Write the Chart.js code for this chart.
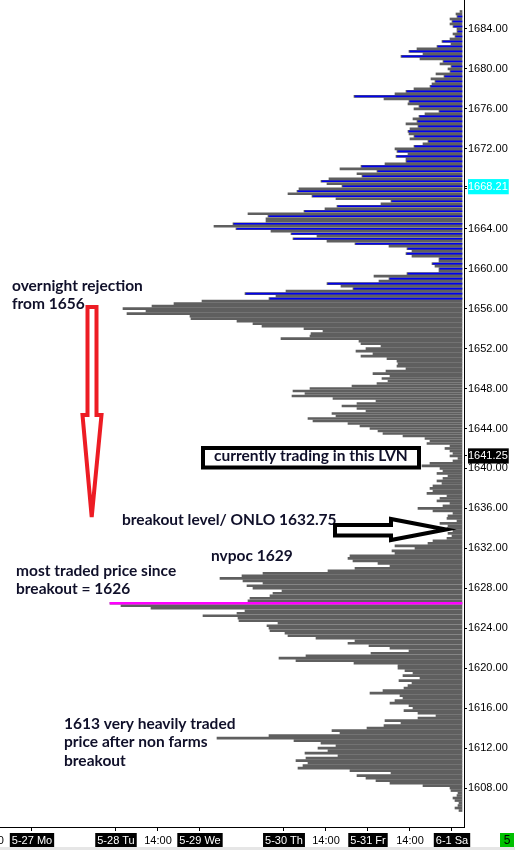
<!DOCTYPE html>
<html>
<head>
<meta charset="utf-8">
<script src="https://cdn.jsdelivr.net/npm/chart.js@4.4.1/dist/chart.umd.min.js"></script>
<style>
html,body{margin:0;padding:0;background:#fff;}
#wrap{width:515px;height:850px;position:relative;}
</style>
</head>
<body>
<div id="wrap"><canvas id="c" width="515" height="850"></canvas></div>
<script>
// ---- price ladder of the volume profile (ES, 0.25 tick) ----
const topPrice = 1685.75;
const tickSize = 0.25;

// ---- grey volume profile, one value per tick from 1685.75 down to 1605.75 ----
const greyVolume = [
  2,6,5,12,10,12,9,5,5,9,7,12,20,11,25,45,              // 1685.75 - 1682.00
  53,39,61,42,19,22,11,14,12,26,18,31,27,30,32,48,      // 1681.75 - 1678.00
  56,67,108,78,53,54,43,48,23,37,43,49,45,56,44,52,     // 1677.75 - 1674.00
  54,53,48,52,34,39,48,67,65,54,66,56,56,77,101,122,    // 1673.75 - 1670.00
  85,105,100,133,141,135,120,163,165,174,150,126,71,81,125,137,   // 1669.75 - 1666.00
  158,214,194,196,196,229,248,226,191,171,145,169,135,107,73,55,  // 1665.75 - 1662.00
  50,56,50,23,23,30,27,23,23,55,88,73,83,135,121,109,   // 1661.75 - 1658.00
  176,217,186,193,260,288,310,339,316,335,272,271,225,209,200,158, // 1657.75 - 1654.00
  139,151,152,181,103,101,81,96,106,89,101,75,65,64,65,56,        // 1653.75 - 1650.00
  76,89,72,80,74,85,110,152,169,157,170,129,86,105,120,105,       // 1649.75 - 1646.00
  96,130,126,154,149,114,102,92,84,79,59,37,32,35,12,17,          // 1645.75 - 1642.00
  12,9,12,4,9,32,40,22,19,25,14,19,25,20,29,32,         // 1641.75 - 1638.00
  29,35,15,22,25,12,19,44,29,9,14,15,5,22,14,15,        // 1637.75 - 1634.00
  9,14,10,15,29,34,67,47,70,67,112,114,109,84,72,107,   // 1633.75 - 1630.00
  134,199,220,242,219,199,215,209,180,189,192,212,214,352,341,311, // 1629.75 - 1626.00
  217,225,259,224,223,184,195,193,192,177,174,146,107,114,93,72,   // 1625.75 - 1622.00
  53,91,156,183,166,108,64,64,57,49,59,42,63,50,54,58,  // 1621.75 - 1618.00
  79,92,62,59,67,72,53,49,58,44,26,44,77,61,78,95,      // 1617.75 - 1614.00
  130,122,193,245,168,141,126,144,134,157,124,156,166,154,159,164, // 1613.75 - 1610.00
  112,71,105,96,86,72,39,12,11,4,5,9,7,3,4,7,           // 1609.75 - 1606.00
  3                                                      // 1605.75
];

// ---- blue (current session) profile lines ----
const bluePrices = [1685.25,1684.75,1684.25,1683.75,1683.25,1682.75,1682.25,1681.75,1681.25,1680.75,
  1680.25,1679.75,1679.25,1678.75,1678.25,1677.75,1677.25,1676.75,1676.25,1675.75,
  1675.25,1674.75,1674.25,1673.75,1673.25,1672.75,1672.25,1671.75,1671.25,1670.75,
  1670.25,1669.75,1669.25,1668.75,1668.25,1667.75,1667.25,1666.75,1666.25,1665.75,
  1665.25,1664.5,1664.0,1663.5,1663.0,1662.5,1662.0,1661.5,1661.0,1660.5,
  1660.0,1659.5,1659.0,1658.5,1658.0,1657.5,1657.0];
const blueVolume = [4,9,8,4,6,19,24,52,60,18,
  10,11,17,26,31,55,107,52,42,22,
  42,44,43,53,47,33,47,64,65,55,
  100,84,99,140,119,164,149,70,124,157,
  193,228,225,170,168,106,54,55,22,29,
  22,54,72,134,108,216,192];

// ---- most traded price (magenta line) ----
const pocPrice = [1626.5];
const pocVolume = [352];

// ---- axes ----
const yTickValues = [1608,1612,1616,1620,1624,1628,1632,1636,1640,1644,1648,1652,1656,1660,1664,1668,1672,1676,1680,1684];
const markPrice = 1668.21;   // cyan label
const lastPrice = 1641.25;   // black label
const priceMin = 1604.1, priceMax = 1686.9;
const timeTickHours  = [-12, 0, 24, 36, 48, 72, 84, 96, 108, 120];
const timeTickLabels = ['14:00','5-27 Mo','5-28 Tu','14:00','5-29 We','5-30 Th','14:00','5-31 Fr','14:00','6-1 Sa'];
const timeMin = -9.14, timeMax = 123.43;

// ---- build datasets ----
const greyData = greyVolume.map((v, i) => ({ x: v, y: topPrice - i * tickSize }));
const blueData = bluePrices.map((p, i) => ({ x: blueVolume[i], y: p }));
const pocData  = pocPrice.map((p, i) => ({ x: pocVolume[i], y: p }));

const AX = "'Liberation Sans', Arial, sans-serif";
const NOTE = "Lato, 'Open Sans', sans-serif";
const NOTE_COLOR = '#10102a';

const notesPlugin = {
  id: 'notes',
  beforeDraw(chart) {
    const c = chart.ctx;
    c.save(); c.fillStyle = '#fff'; c.fillRect(0, 0, chart.width, chart.height); c.restore();
  },
  afterDraw(chart) {
    const c = chart.ctx;
    c.save();
    c.fillStyle = NOTE_COLOR;
    c.font = "bold 15.5px " + NOTE;
    c.textBaseline = 'alphabetic';
    c.textAlign = 'left';
    const texts = [
      ['overnight rejection', 12, 291],
      ['from 1656', 12, 309],
      ['currently trading in this LVN', 214, 461],
      ['breakout level/ ONLO 1632.75', 122, 525],
      ['nvpoc 1629', 211, 561],
      ['most traded price since', 16, 576],
      ['breakout = 1626', 16, 594],
      ['1613 very heavily traded', 64, 729],
      ['price after non farms', 64, 747],
      ['breakout', 64, 766]
    ];
    texts.forEach(t => c.fillText(t[0], t[1], t[2]));

    c.strokeStyle = '#000';
    c.lineWidth = 4;
    c.strokeRect(203, 448, 216, 19.5);

    c.strokeStyle = '#ed1c24';
    c.lineWidth = 4;
    c.lineJoin = 'miter';
    c.beginPath();
    c.moveTo(87.5, 307); c.lineTo(96.5, 307); c.lineTo(96.5, 415);
    c.lineTo(101.5, 415); c.lineTo(91.7, 517); c.lineTo(82.5, 415);
    c.lineTo(87.5, 415); c.closePath();
    c.stroke();

    c.strokeStyle = '#000';
    c.lineWidth = 4;
    c.beginPath();
    c.moveTo(335, 525); c.lineTo(391, 525); c.lineTo(391, 519);
    c.lineTo(446, 529.5); c.lineTo(391, 540); c.lineTo(391, 535.5);
    c.lineTo(335, 535.5); c.closePath();
    c.stroke();

    c.fillStyle = '#e6e6e6';
    c.fillRect(0, 847, chart.width, 3);
    c.fillStyle = '#00c000';
    c.fillRect(500, 833, 14, 14);
    c.fillStyle = '#000';
    c.font = "12px " + AX;
    c.textAlign = 'center';
    c.textBaseline = 'middle';
    c.fillText('5', 507, 840.5);
    c.restore();
  }
};

const isDateLabel = i => timeTickLabels[i] && timeTickLabels[i].indexOf('-') >= 0;
const isSpecial = v => v === markPrice || v === lastPrice;

new Chart(document.getElementById('c'), {
  type: 'bar',
  data: {
    datasets: [
      { label: 'POC', data: pocData, backgroundColor: '#ff00ff', barThickness: 2, grouped: false, order: 0, xAxisID: 'x', yAxisID: 'y' },
      { label: 'Session', data: blueData, backgroundColor: '#0000f0', barThickness: 1, grouped: false, order: 1, xAxisID: 'x', yAxisID: 'y' },
      { label: 'Profile', data: greyData, backgroundColor: '#5f5f5f', barThickness: 2, grouped: false, order: 2, xAxisID: 'x', yAxisID: 'y' }
    ]
  },
  options: {
    indexAxis: 'y',
    responsive: false,
    animation: false,
    devicePixelRatio: 1,
    layout: { padding: 0 },
    plugins: { legend: { display: false }, tooltip: { enabled: false } },
    scales: {
      x: { type: 'linear', reverse: true, min: -2, max: 462, display: false, offset: false },
      y: {
        type: 'linear', position: 'right', min: priceMin, max: priceMax,
        offset: false,
        afterBuildTicks(s) {
          s.ticks = yTickValues.concat([markPrice, lastPrice]).sort((a, b) => a - b).map(v => ({ value: v }));
        },
        afterFit(s) { s.width = 51; s.paddingTop = 0; s.paddingBottom = 0; },
        ticks: {
          padding: 1,
          font: { family: AX, size: 11 },
          callback: v => Number(v).toFixed(2),
          color: c => isSpecial(c.tick.value) ? '#fff' : '#000',
          showLabelBackdrop: c => isSpecial(c.tick.value),
          backdropColor: c => c.tick.value === markPrice ? '#00ffff' : '#000',
          backdropPadding: { left: 0, right: 1, top: 1, bottom: 1 }
        },
        grid: { offset: false, drawOnChartArea: false, drawTicks: true, tickLength: 3, color: '#000' },
        border: { display: true, color: '#000', width: 1 }
      },
      xt: {
        type: 'linear', position: 'bottom', min: timeMin, max: timeMax, offset: false,
        afterBuildTicks(s) { s.ticks = timeTickHours.map(h => ({ value: h })); },
        afterFit(s) { s.height = 23; s.paddingLeft = 0; s.paddingRight = 0; },
        ticks: {
          autoSkip: false, maxRotation: 0, minRotation: 0, padding: 3,
          font: { family: AX, size: 11 },
          callback: (v, i) => timeTickLabels[i],
          color: c => isDateLabel(c.index) ? '#fff' : '#000',
          showLabelBackdrop: c => isDateLabel(c.index),
          backdropColor: '#000',
          backdropPadding: { left: 2, right: 2, top: 1, bottom: 0 }
        },
        grid: { offset: false, drawOnChartArea: false, drawTicks: true, tickLength: 4, color: '#000' },
        border: { display: true, color: '#000', width: 1 }
      }
    }
  },
  plugins: [notesPlugin]
});
</script>
</body>
</html>
